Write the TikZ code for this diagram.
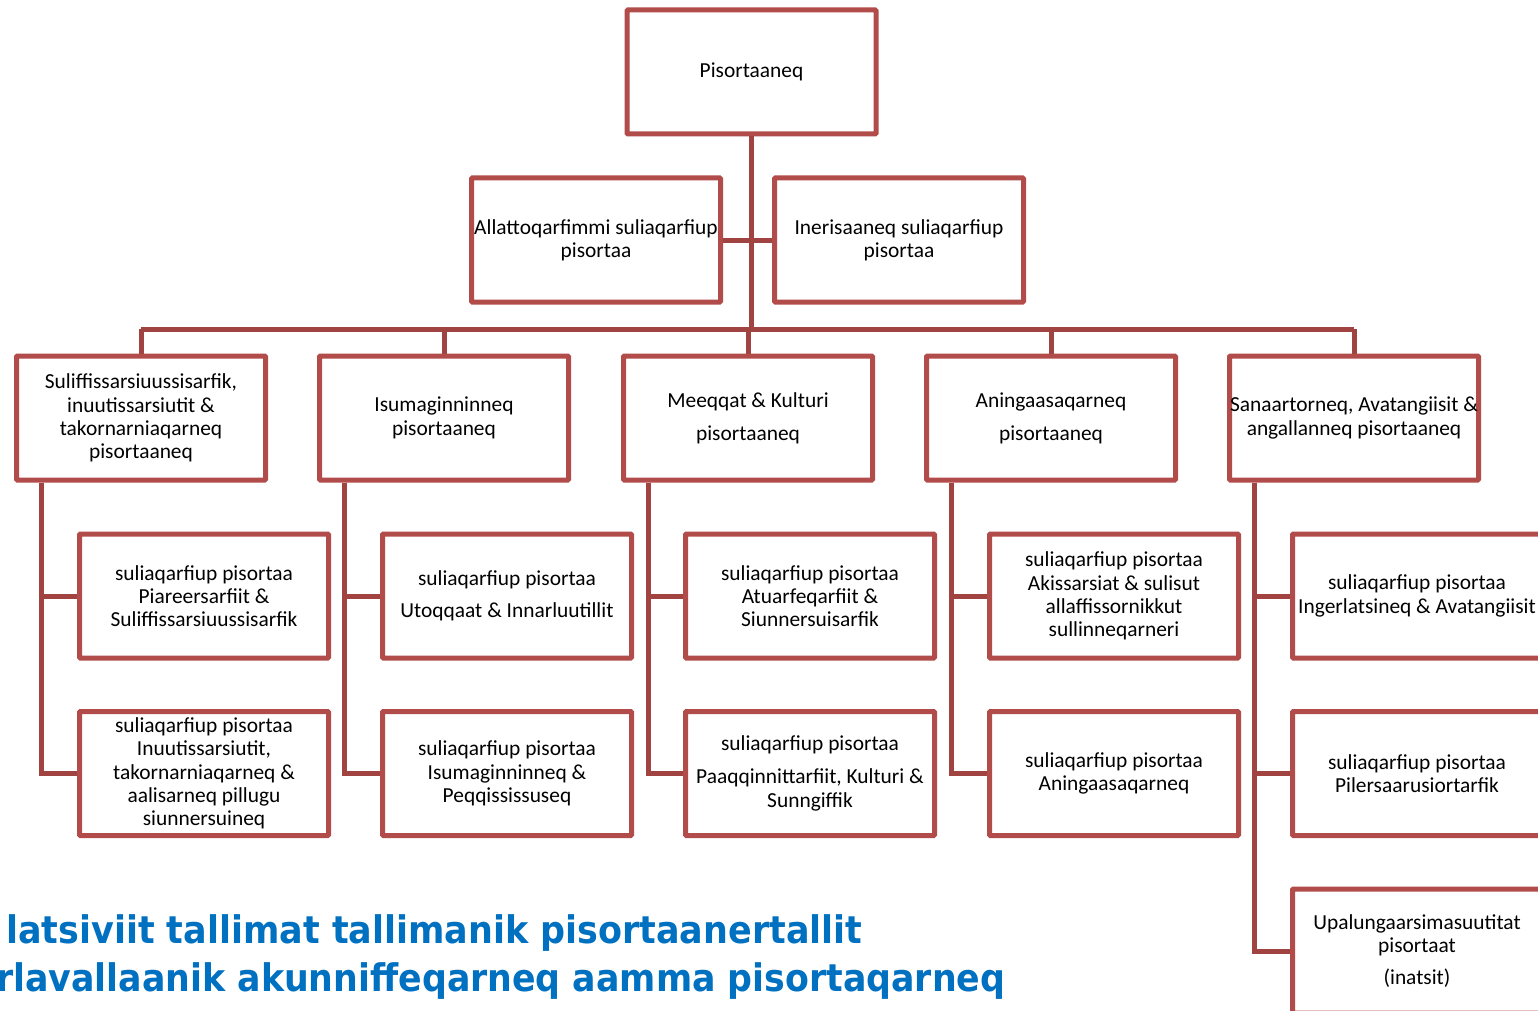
\documentclass[tikz,border=0pt]{standalone}
\usepackage{fontspec}
\usepackage{graphicx}
\setmainfont{Carlito}
\newfontfamily\titlefont{DejaVu Sans}
\definecolor{boxred}{HTML}{B24C4A}
\definecolor{linkred}{HTML}{A14341}
\definecolor{titleblue}{HTML}{0070C0}
\begin{document}
\begin{tikzpicture}[x=1pt,y=-1pt,
  orgbox/.style={draw=boxred, line width=5pt, minimum width=249pt, minimum height=124pt,
    inner sep=0pt, align=center, font=\fontsize{21.4}{23.3}\selectfont, text=black, fill=white,
    rounded corners=1pt},
  link/.style={draw=linkred, line width=5pt},
  titletext/.style={inner sep=0pt, text=titleblue, font=\titlefont\bfseries\fontsize{38}{46}\selectfont}]
\useasboundingbox (0,0) rectangle (1538,1011);
\clip (0,0) rectangle (1538,1011);
\fill[white] (0,0) rectangle (1538,1011);

\coordinate (busL) at (141,329);
\coordinate (busR) at (1354,329);

% boxes
\node[orgbox] (T) at (751.5,72) {Pisortaaneq};
\node[orgbox] (A2) at (596,240) {Allattoqarfimmi suliaqarfiup\\pisortaa};
\node[orgbox] (I2) at (899,240) {Inerisaaneq suliaqarfiup\\pisortaa};

\node[orgbox] (c1) at (141,418) {Suliffissarsiuussisarfik,\\inuutissarsiutit \&\\takornarniaqarneq\\pisortaaneq};
\node[orgbox] (c2) at (444,418) {Isumaginninneq\\pisortaaneq};
\node[orgbox] (c3) at (748,418) {Meeqqat \& Kulturi\\[9.7pt]pisortaaneq};
\node[orgbox] (c4) at (1051,418) {Aningaasaqarneq\\[9.7pt]pisortaaneq};
\node[orgbox] (c5) at (1354,418) {Sanaartorneq, Avatangiisit \&\\angallanneq pisortaaneq};

\node[orgbox] (g1a) at (204,596) {suliaqarfiup pisortaa\\Piareersarfiit \&\\Suliffissarsiuussisarfik};
\node[orgbox] (g2a) at (507,596) {suliaqarfiup pisortaa\\[9pt]Utoqqaat \& Innarluutillit};
\node[orgbox] (g3a) at (810,596) {suliaqarfiup pisortaa\\Atuarfeqarfiit \&\\Siunnersuisarfik};
\node[orgbox] (g4a) at (1114,596) {suliaqarfiup pisortaa\\Akissarsiat \& sulisut\\allaffissornikkut\\sullinneqarneri};
\node[orgbox] (g5a) at (1417,596) {suliaqarfiup pisortaa\\Ingerlatsineq \& Avatangiisit};

\node[orgbox] (g1b) at (204,773.5) {suliaqarfiup pisortaa\\Inuutissarsiutit,\\takornarniaqarneq \&\\aalisarneq pillugu\\siunnersuineq};
\node[orgbox] (g2b) at (507,773.5) {suliaqarfiup pisortaa\\Isumaginninneq \&\\Peqqississuseq};
\node[orgbox] (g3b) at (810,773.5) {suliaqarfiup pisortaa\\[9.7pt]Paaqqinnittarfiit, Kulturi \&\\Sunngiffik};
\node[orgbox] (g4b) at (1114,773.5) {suliaqarfiup pisortaa\\Aningaasaqarneq};
\node[orgbox] (g5b) at (1417,773.5) {suliaqarfiup pisortaa\\Pilersaarusiortarfik};
\node[orgbox] (g5c) at (1417,951) {Upalungaarsimasuutitat\\pisortaat\\[9pt](inatsit)};

% connectors
\draw[link] (T.south) -- (T.south |- busL);
\draw[link] (A2.east) -- (I2.west);
\draw[link] (busL) -- (busR);
\foreach \c in {c1,c2,c3,c4,c5} {
  \draw[link] (\c.north) -- (\c.north |- busL);
}
\foreach \c/\a/\b in {c1/g1a/g1b, c2/g2a/g2b, c3/g3a/g3b, c4/g4a/g4b, c5/g5a/g5b} {
  \draw[link] ([xshift=-100pt]\c.south) |- (\b.west);
  \draw[link] ([xshift=-100pt]\c.south) |- (\a.west);
}
\draw[link] ([xshift=-100pt]c5.south) |- (g5c.west);

% title text (cut off at left edge, as in the reference)
\node[titletext, anchor=base west] (t1) at (6,943) {\resizebox{856pt}{\height}{latsiviit tallimat tallimanik pisortaanertallit}};
\node[titletext, anchor=base west] (t2) at (-4,991) {\resizebox{1009pt}{\height}{rlavallaanik akunniffeqarneq aamma pisortaqarneq}};
\end{tikzpicture}
\end{document}
